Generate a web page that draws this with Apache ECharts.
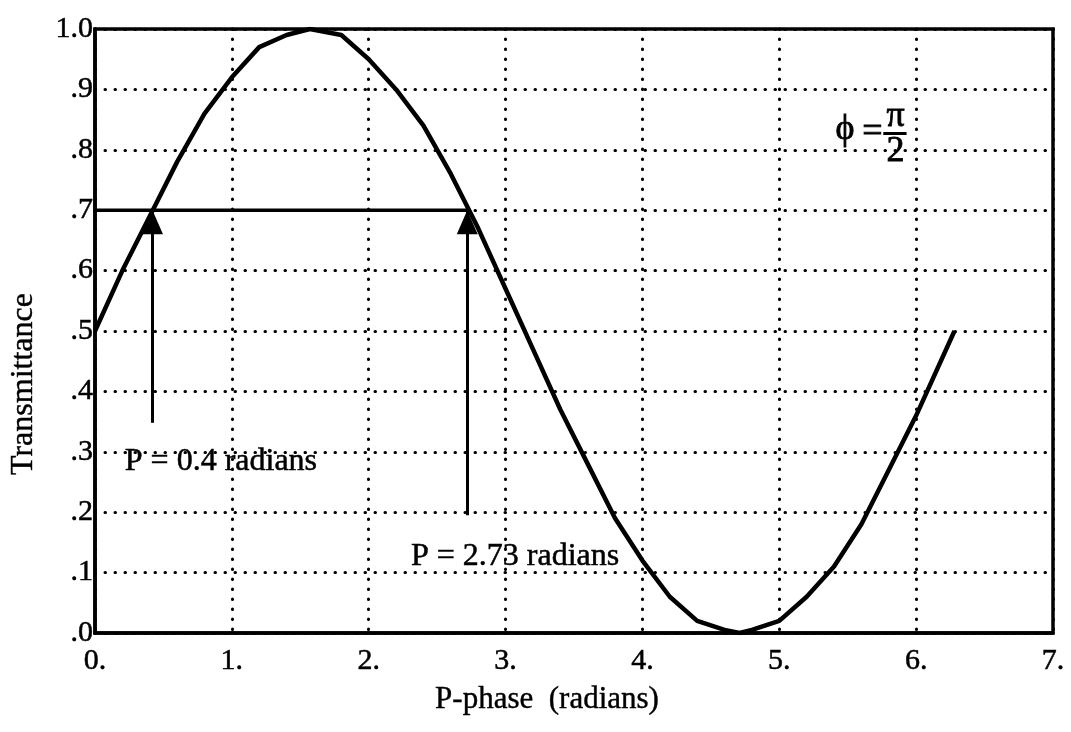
<!DOCTYPE html>
<html>
<head>
<meta charset="utf-8">
<script src="https://cdn.jsdelivr.net/npm/echarts@6/dist/echarts.min.js"></script>
<style>
html,body{margin:0;padding:0;background:#fff;}
#chart{width:1071px;height:732px;}
</style>
</head>
<body>
<div id="chart"></div>
<script>
// P-phase (radians) samples
const phase = [0, 0.2, 0.4, 0.6, 0.8, 1.0, 1.2, 1.4, 1.57, 1.8, 2.0, 2.2, 2.4, 2.6, 2.8, 3.0, 3.2, 3.4, 3.6, 3.8, 4.0, 4.2, 4.4, 4.6, 4.71, 4.8, 5.0, 5.2, 5.4, 5.6, 5.8, 6.0, 6.28];
// Transmittance values
const transmittance = [0.50, 0.60, 0.69, 0.78, 0.86, 0.92, 0.97, 0.99, 1.00, 0.99, 0.95, 0.90, 0.84, 0.76, 0.67, 0.57, 0.47, 0.37, 0.28, 0.19, 0.12, 0.06, 0.02, 0.005, 0.00, 0.005, 0.02, 0.06, 0.11, 0.18, 0.27, 0.36, 0.50];
const xTickLabels = ['0.', '1.', '2.', '3.', '4.', '5.', '6.', '7.'];
const yTickLabels = ['.0', '.1', '.2', '.3', '.4', '.5', '.6', '.7', '.8', '.9', '1.0'];
// reference level and arrow markers
const level = 0.7;
const arrowPhases = [0.42, 2.72];
const arrowStarts = [0.348, 0.195];
const annotationTexts = ['P = 0.4 radians', 'P = 2.73 radians'];

const serif = '"Liberation Serif", "Times New Roman", serif';
const chart = echarts.init(document.getElementById('chart'), null, {renderer: 'canvas'});
const dotted = {color: '#000', width: 3, type: [0.5, 9.5], cap: 'round'};
const thick = {textBorderColor: '#000', textBorderWidth: 0.5};

const option = {
  animation: false,
  backgroundColor: '#fff',
  grid: {left: 95, right: 18, top: 29, bottom: 99, show: true, borderColor: '#000', borderWidth: 3.5, backgroundColor: 'transparent'},
  xAxis: {
    type: 'value', min: 0, max: 7, interval: 1,
    axisLine: {show: true, lineStyle: {color: '#000', width: 3.5}},
    axisTick: {show: false},
    splitLine: {show: true, lineStyle: dotted},
    axisLabel: Object.assign({color: '#000', fontFamily: serif, fontSize: 30, margin: 13,
      formatter: v => xTickLabels[Math.round(v)]}, thick)
  },
  yAxis: {
    type: 'value', min: 0, max: 1, interval: 0.1,
    axisLine: {show: true, lineStyle: {color: '#000', width: 3.5}},
    axisTick: {show: false},
    splitLine: {show: true, lineStyle: dotted},
    axisLabel: Object.assign({color: '#000', fontFamily: serif, fontSize: 30, margin: 2,
      formatter: v => yTickLabels[Math.round(v * 10)]}, thick)
  },
  graphic: [
    {type: 'text', x: 547, y: 700, style: {text: 'P-phase  (radians)', font: '31px ' + serif, fill: '#000', stroke: '#000', lineWidth: 0.4, textAlign: 'center', textVerticalAlign: 'middle'}},
    {type: 'text', x: 24, y: 384, rotation: Math.PI / 2, style: {text: 'Transmittance', font: '32px ' + serif, fill: '#000', stroke: '#000', lineWidth: 0.4, textAlign: 'center', textVerticalAlign: 'middle'}}
  ],
  series: [
    {
      type: 'line', name: 'curve', symbol: 'none', smooth: false, z: 5,
      lineStyle: {color: '#000', width: 4.5},
      data: phase.map((p, i) => [p, transmittance[i]])
    },
    {
      type: 'line', name: 'level', symbol: 'none', z: 4,
      lineStyle: {color: '#000', width: 3.5},
      data: [[0, level], [arrowPhases[1], level]],
      markLine: {
        silent: true, animation: false,
        symbol: ['none', 'triangle'], symbolSize: [21, 24], symbolOffset: [0, [0, '50%']],
        lineStyle: {color: '#000', width: 3, type: 'solid'},
        itemStyle: {color: '#000'},
        label: {show: false},
        data: arrowPhases.map((p, i) => [{coord: [p, arrowStarts[i]]}, {coord: [p, level]}])
      }
    },
    {
      type: 'scatter', name: 'notes', symbolSize: 0, z: 6,
      itemStyle: {opacity: 1, color: '#000'},
      label: Object.assign({show: true, position: 'inside', color: '#000', fontFamily: serif, fontSize: 32, formatter: p => p.data[2]}, thick),
      data: [[0.92, 0.283, annotationTexts[0]], [3.07, 0.126, annotationTexts[1]]]
    },
    {
      type: 'scatter', name: 'phi', symbolSize: 0, z: 6,
      itemStyle: {opacity: 1, color: '#000'},
      label: Object.assign({show: true, position: 'inside', color: '#000', fontFamily: serif, fontSize: 36, formatter: p => p.data[2]}, {textBorderColor: '#000', textBorderWidth: 0.8}),
      data: [[5.48, 0.833, 'ϕ'], [5.68, 0.829, '='], [5.85, 0.855, 'π'], [5.85, 0.797, '2']],
      markLine: {
        silent: true, symbol: 'none', label: {show: false},
        lineStyle: {color: '#000', width: 3, type: 'solid'},
        data: [[{coord: [5.76, 0.828]}, {coord: [5.93, 0.828]}]]
      }
    }
  ]
};
chart.setOption(option);
</script>
</body>
</html>
